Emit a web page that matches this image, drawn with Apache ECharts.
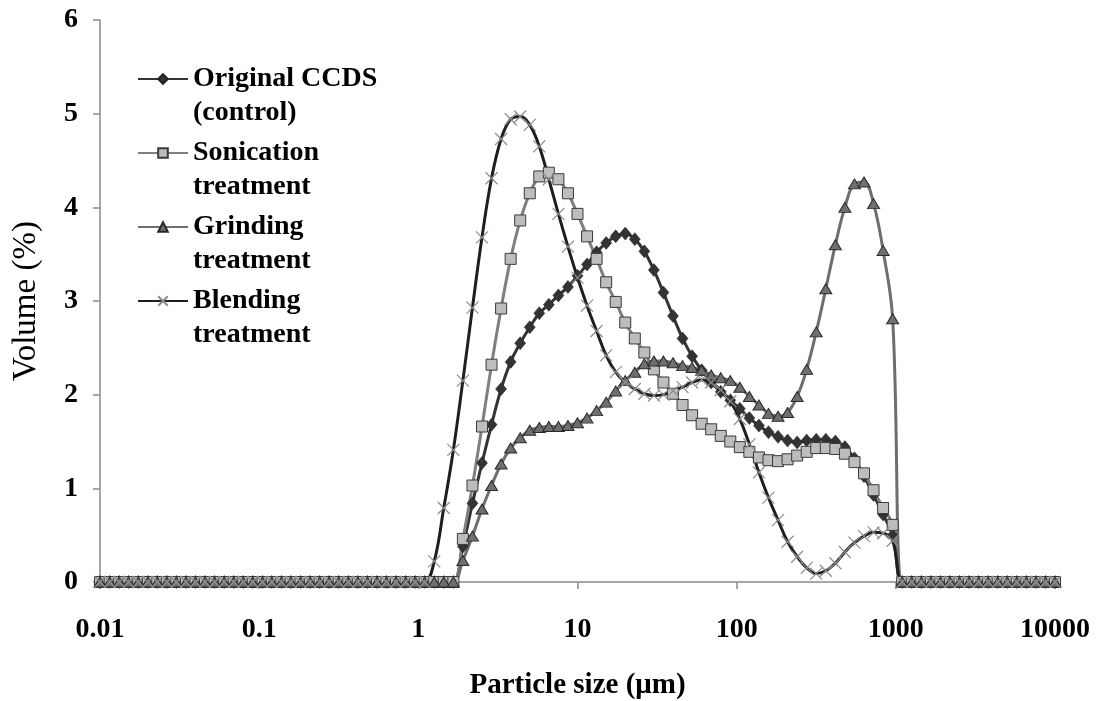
<!DOCTYPE html>
<html>
<head>
<meta charset="utf-8">
<style>
  html, body { margin: 0; padding: 0; background: #fff; }
  #chart { width: 1102px; height: 701px; }
</style>
<script src="https://cdn.jsdelivr.net/npm/echarts@6/dist/echarts.min.js"></script>
</head>
<body>
<div id="chart"></div>
<script>
//Tailles de particules (µm), classes log
const sizes = [
  0.01, 0.0115, 0.0132, 0.0151, 0.0174, 0.02, 0.0229, 0.0263, 0.0302, 0.0347,
  0.0398, 0.0457, 0.0525, 0.0603, 0.0692, 0.0794, 0.0912, 0.105, 0.120, 0.138,
  0.158, 0.182, 0.209, 0.240, 0.275, 0.316, 0.363, 0.417, 0.479, 0.550,
  0.631, 0.724, 0.832, 0.955, 1.096, 1.259, 1.445, 1.660, 1.905, 2.188,
  2.512, 2.884, 3.311, 3.802, 4.365, 5.012, 5.754, 6.607, 7.586, 8.710,
  10.00, 11.48, 13.18, 15.14, 17.38, 19.95, 22.91, 26.30, 30.20, 34.67,
  39.81, 45.71, 52.48, 60.26, 69.18, 79.43, 91.20, 104.7, 120.2, 138.0,
  158.5, 182.0, 208.9, 239.9, 275.4, 316.2, 363.1, 416.9, 478.6, 549.5,
  631.0, 724.4, 831.8, 955.0, 1096, 1259, 1445, 1660, 1905, 2188,
  2512, 2884, 3311, 3802, 4365, 5012, 5754, 6607, 7586, 8710,
  10000
];

const original = [
  0, 0, 0, 0, 0, 0, 0, 0, 0, 0,
  0, 0, 0, 0, 0, 0, 0, 0, 0, 0,
  0, 0, 0, 0, 0, 0, 0, 0, 0, 0,
  0, 0, 0, 0, 0, 0, 0, 0, 0.38, 0.84,
  1.27, 1.68, 2.06, 2.35, 2.55, 2.72, 2.87, 2.96, 3.06, 3.15,
  3.27, 3.39, 3.52, 3.62, 3.69, 3.72, 3.66, 3.53, 3.33, 3.09,
  2.84, 2.60, 2.41, 2.26, 2.13, 2.03, 1.94, 1.85, 1.75, 1.67,
  1.60, 1.55, 1.51, 1.49, 1.51, 1.52, 1.52, 1.50, 1.44, 1.32,
  1.13, 0.93, 0.72, 0.50, 0, 0, 0, 0, 0, 0,
  0, 0, 0, 0, 0, 0, 0, 0, 0, 0,
  0
];

const sonication = [
  0, 0, 0, 0, 0, 0, 0, 0, 0, 0,
  0, 0, 0, 0, 0, 0, 0, 0, 0, 0,
  0, 0, 0, 0, 0, 0, 0, 0, 0, 0,
  0, 0, 0, 0, 0, 0, 0, 0, 0.46, 1.03,
  1.66, 2.32, 2.92, 3.45, 3.86, 4.15, 4.33, 4.37, 4.30, 4.15,
  3.93, 3.69, 3.45, 3.20, 2.99, 2.77, 2.60, 2.45, 2.27, 2.13,
  2.01, 1.89, 1.78, 1.69, 1.63, 1.56, 1.50, 1.44, 1.39, 1.33,
  1.30, 1.29, 1.31, 1.35, 1.39, 1.43, 1.43, 1.42, 1.37, 1.28,
  1.16, 0.98, 0.79, 0.61, 0, 0, 0, 0, 0, 0,
  0, 0, 0, 0, 0, 0, 0, 0, 0, 0,
  0
];

const grinding = [
  0, 0, 0, 0, 0, 0, 0, 0, 0, 0,
  0, 0, 0, 0, 0, 0, 0, 0, 0, 0,
  0, 0, 0, 0, 0, 0, 0, 0, 0, 0,
  0, 0, 0, 0, 0, 0, 0, 0, 0.23, 0.49,
  0.78, 1.03, 1.26, 1.43, 1.54, 1.62, 1.65, 1.66, 1.66, 1.67,
  1.70, 1.75, 1.83, 1.92, 2.04, 2.15, 2.24, 2.33, 2.36, 2.36,
  2.34, 2.31, 2.29, 2.26, 2.21, 2.18, 2.15, 2.08, 1.98, 1.89,
  1.80, 1.77, 1.81, 1.98, 2.27, 2.67, 3.13, 3.60, 4.00, 4.25,
  4.27, 4.04, 3.54, 2.81, 0, 0, 0, 0, 0, 0,
  0, 0, 0, 0, 0, 0, 0, 0, 0, 0,
  0
];

const blending = [
  0, 0, 0, 0, 0, 0, 0, 0, 0, 0,
  0, 0, 0, 0, 0, 0, 0, 0, 0, 0,
  0, 0, 0, 0, 0, 0, 0, 0, 0, 0,
  0, 0, 0, 0, 0, 0.22, 0.79, 1.41, 2.15, 2.93,
  3.68, 4.31, 4.73, 4.94, 4.97, 4.88, 4.65, 4.30, 3.93, 3.58,
  3.25, 2.95, 2.68, 2.42, 2.24, 2.13, 2.06, 2.01, 1.99, 2.00,
  2.04, 2.08, 2.13, 2.16, 2.13, 2.05, 1.93, 1.74, 1.47, 1.17,
  0.90, 0.66, 0.43, 0.27, 0.15, 0.09, 0.12, 0.20, 0.32, 0.42,
  0.49, 0.53, 0.52, 0.44, 0, 0, 0, 0, 0, 0,
  0, 0, 0, 0, 0, 0, 0, 0, 0, 0,
  0
];

const seriesNames = [
  'Original CCDS\n(control)',
  'Sonication\ntreatment',
  'Grinding\ntreatment',
  'Blending\ntreatment'
];
const xTickLabels = ['0.01', '0.1', '1', '10', '100', '1000', '10000'];
const yTickLabels = ['0', '1', '2', '3', '4', '5', '6'];

const font = '"Liberation Serif", "Times New Roman", serif';
const axisGray = '#8a8a8a';

let chart = echarts.init(document.getElementById('chart'));

const pairs = vals => sizes.map((s, i) => [s, vals[i]]);

chart.setOption({
  backgroundColor: '#fff',
  animation: false,
  grid: { left: 100, right: 47, top: 20, bottom: 119, outerBoundsMode: 'none' },
  //Légende : ligne vide en tête pour aligner le symbole sur la 1re ligne
  legend: {
    orient: 'vertical',
    left: 137,
    top: 28,
    padding: 0,
    itemGap: -28,
    itemWidth: 50,
    itemHeight: 12,
    data: seriesNames,
    formatter: name => ' \n' + name,
    textStyle: {
      fontFamily: font, fontSize: 28, fontWeight: 'bold', color: '#000',
      lineHeight: 34
    }
  },
  xAxis: {
    type: 'log',
    logBase: 10,
    min: 0.01,
    max: 10000,
    splitNumber: 6,
    name: 'Particle size (μm)',
    nameLocation: 'middle',
    nameGap: 89,
    nameTextStyle: { fontFamily: font, fontSize: 29, fontWeight: 'bold', color: '#000' },
    axisLine: { lineStyle: { color: axisGray, width: 1.5 } },
    axisTick: { length: 7, lineStyle: { color: axisGray, width: 1.5 } },
    axisLabel: {
      fontFamily: font, fontSize: 28, fontWeight: 'bold', color: '#000', margin: 34,
      formatter: v => xTickLabels[Math.round(Math.log10(v)) + 2] ?? ''
    },
    splitLine: { show: false },
    minorTick: { show: false }
  },
  yAxis: {
    type: 'value',
    min: 0,
    max: 6,
    interval: 1,
    name: 'Volume (%)',
    nameLocation: 'middle',
    nameGap: 57,
    nameTextStyle: { fontFamily: font, fontSize: 33, color: '#000' },
    axisLine: { show: true, lineStyle: { color: axisGray, width: 1.5 } },
    axisTick: { show: true, length: 7, lineStyle: { color: axisGray, width: 1.5 } },
    axisLabel: {
      fontFamily: font, fontSize: 28, fontWeight: 'bold', color: '#000', margin: 22,
      formatter: v => yTickLabels[v] ?? ''
    },
    splitLine: { show: false }
  },
  series: [
    {
      name: seriesNames[0],
      type: 'line',
      smooth: 0.4,
      symbol: 'diamond',
      symbolSize: [11, 13],
      lineStyle: { color: '#333', width: 3 },
      itemStyle: { color: '#333', borderColor: '#222', borderWidth: 0.5 },
      data: pairs(original)
    },
    {
      name: seriesNames[1],
      type: 'line',
      smooth: 0.4,
      symbol: 'rect',
      symbolSize: 11,
      lineStyle: { color: '#7f7f7f', width: 3 },
      itemStyle: { color: '#bdbdbd', borderColor: '#3a3a3a', borderWidth: 1 },
      data: pairs(sonication)
    },
    {
      name: seriesNames[2],
      type: 'line',
      smooth: 0.4,
      symbol: 'triangle',
      symbolSize: [12, 10],
      lineStyle: { color: '#6e6e6e', width: 3 },
      itemStyle: { color: '#6f6f6f', borderColor: '#2a2a2a', borderWidth: 1 },
      data: pairs(grinding)
    },
    {
      name: seriesNames[3],
      type: 'line',
      smooth: 0.4,
      symbol: 'path://M0,0L10,10M10,0L0,10',
      symbolSize: 12,
      lineStyle: { color: '#1e1e1e', width: 3 },
      itemStyle: { color: 'none', borderColor: '#8c8c8c', borderWidth: 1.2 },
      data: pairs(blending)
    }
  ]
});

window.addEventListener('resize', () => chart.resize());
</script>
</body>
</html>
